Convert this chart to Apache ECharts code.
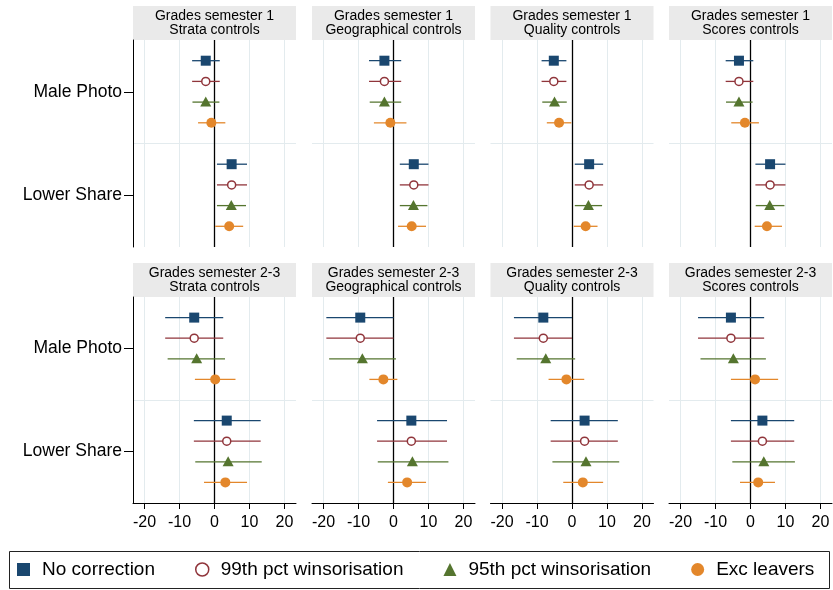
<!DOCTYPE html>
<html><head><meta charset="utf-8">
<script src="https://cdn.jsdelivr.net/npm/echarts@6/dist/echarts.min.js"></script>
<style>html,body{margin:0;padding:0;background:#fff}#c{width:833px;height:590px}</style>
</head><body><div id="c"></div>
<script>
const categories = ["Male Photo", "Lower Share"];
const methods = ["No correction", "99th pct winsorisation", "95th pct winsorisation", "Exc leavers"];
const rowTitles = ["Grades semester 1", "Grades semester 2-3"];
const colTitles = ["Strata controls", "Geographical controls", "Quality controls", "Scores controls"];
const xTicks = [-20, -10, 0, 10, 20];

// each panel: per category, per method: [estimate, lower CI, upper CI]
const sem1Strata = [
  [[-2.5, -6.4, 1.5], [-2.5, -6.4, 1.5], [-2.5, -6.3, 1.4], [-0.9, -4.7, 3.1]],
  [[4.9, 0.7, 9.3], [4.9, 0.7, 9.3], [4.8, 0.7, 9.0], [4.2, 0.2, 8.2]]
];
const sem1Geo = [
  [[-2.6, -7.0, 2.2], [-2.6, -7.0, 2.2], [-2.6, -6.8, 2.2], [-0.9, -5.6, 3.7]],
  [[5.8, 1.8, 10.0], [5.8, 1.8, 10.0], [5.7, 1.8, 9.7], [5.2, 1.3, 9.3]]
];
const sem1Quality = [
  [[-5.2, -8.7, -1.6], [-5.2, -8.7, -1.6], [-5.0, -8.5, -1.5], [-3.7, -7.2, -0.2]],
  [[4.9, 0.8, 8.9], [4.9, 0.8, 8.9], [4.7, 0.8, 8.6], [3.9, 0.5, 7.3]]
];
const sem1Scores = [
  [[-3.3, -7.1, 0.8], [-3.3, -7.1, 0.8], [-3.3, -7.0, 0.6], [-1.6, -5.5, 2.4]],
  [[5.6, 1.4, 10.0], [5.6, 1.4, 10.0], [5.5, 1.5, 9.7], [4.7, 1.2, 9.0]]
];
const sem23Strata = [
  [[-5.8, -14.1, 2.5], [-5.8, -14.1, 2.5], [-5.1, -13.4, 3.0], [0.2, -5.6, 6.0]],
  [[3.5, -5.9, 13.2], [3.5, -5.9, 13.2], [3.9, -5.5, 13.5], [3.1, -3.0, 9.3]]
];
const sem23Geo = [
  [[-9.5, -19.2, 0.0], [-9.5, -19.2, 0.0], [-8.9, -18.4, 0.7], [-2.9, -6.9, 1.1]],
  [[5.1, -4.7, 15.3], [5.1, -4.7, 15.3], [5.4, -4.5, 15.7], [3.9, -1.6, 9.3]]
];
const sem23Quality = [
  [[-8.2, -16.6, 0.0], [-8.2, -16.6, 0.0], [-7.5, -15.8, 0.9], [-1.6, -6.7, 3.5]],
  [[3.6, -6.1, 13.1], [3.6, -6.1, 13.1], [4.0, -5.6, 13.5], [3.1, -2.5, 8.9]]
];
const sem23Scores = [
  [[-5.6, -15.0, 3.9], [-5.6, -15.0, 3.9], [-4.9, -14.3, 4.4], [1.3, -5.6, 7.9]],
  [[3.4, -5.6, 12.5], [3.4, -5.6, 12.5], [3.8, -5.2, 12.7], [2.2, -3.0, 7.0]]
];
const panels = [
  [sem1Strata, sem1Geo, sem1Quality, sem1Scores],
  [sem23Strata, sem23Geo, sem23Quality, sem23Scores]
];

// styling / layout
const FONT = '"Liberation Sans", Arial, Helvetica, sans-serif';
const colors = ['#1a476f', '#90353b', '#55752f', '#e3872b'];
const offsets = [-0.3, -0.1, 0.1, 0.3];
const gridLeft = [133, 312, 490.5, 669];
const gridWidth = 163;
const gridTop = [40, 297];
const gridHeight = [207, 206];
const headerTop = [6, 263];
const headerH = 34;
const GRID_LINE = '#e3ebee';

function marker(m, x, y) {
  const c = colors[m];
  if (m === 0) return { type: 'rect', shape: { x: x - 5, y: y - 5, width: 10, height: 10 }, style: { fill: c } };
  if (m === 1) return { type: 'circle', shape: { cx: x, cy: y, r: 4 }, style: { fill: '#fff', stroke: c, lineWidth: 1.5 } };
  if (m === 2) return { type: 'polygon', shape: { points: [[x, y - 5.5], [x - 5.5, y + 4.5], [x + 5.5, y + 4.5]] }, style: { fill: c } };
  return { type: 'circle', shape: { cx: x, cy: y, r: 5 }, style: { fill: c } };
}
function makeRender(m) {
  return function (params, api) {
    const cat = api.value(1);
    const c = api.coord([api.value(0), cat]);
    const band = api.size([0, 1])[1];
    const y = c[1] + offsets[m] * band;
    const xLo = api.coord([api.value(2), cat])[0];
    const xHi = api.coord([api.value(3), cat])[0];
    return {
      type: 'group',
      children: [
        { type: 'line', shape: { x1: xLo, y1: y, x2: xHi, y2: y }, style: { stroke: colors[m], lineWidth: 1.3 } },
        marker(m, c[0], y)
      ]
    };
  };
}

const grids = [], xAxes = [], yAxes = [], series = [], graphics = [];
let gi = 0;
for (let r = 0; r < 2; r++) {
  for (let col = 0; col < 4; col++) {
    grids.push({ left: gridLeft[col], top: gridTop[r], width: gridWidth, height: gridHeight[r], containLabel: false });
    const bottom = r === 1;
    xAxes.push({
      gridIndex: gi, type: 'value', min: -23.3, max: 23.3,
      axisLine: { show: bottom, onZero: false, lineStyle: { color: '#000', width: 1 } },
      axisTick: { show: bottom, length: 6, customValues: xTicks, lineStyle: { color: '#000' } },
      axisLabel: { show: bottom, customValues: xTicks, fontSize: 16, margin: 12, color: '#000', fontFamily: FONT },
      splitLine: { show: false }
    });
    const first = col === 0;
    yAxes.push({
      gridIndex: gi, type: 'category', data: categories, inverse: true, position: 'left',
      axisLine: { show: first, onZero: false, lineStyle: { color: '#000', width: 1 } },
      axisTick: { show: first, alignWithLabel: true, length: 9, lineStyle: { color: '#000' } },
      axisLabel: { show: first, fontSize: 17.5, margin: 11, color: '#000', fontFamily: FONT },
      splitLine: { show: true, showMinLine: false, showMaxLine: false, lineStyle: { color: GRID_LINE, width: 1 } }
    });
    series.push({
      type: 'line', xAxisIndex: gi, yAxisIndex: gi, data: [], silent: true, z: 1,
      markLine: {
        silent: true, symbol: 'none', z: 1, animation: false, label: { show: false },
        data: xTicks.map(v => ({ xAxis: v, lineStyle: { color: v === 0 ? '#000' : GRID_LINE, width: v === 0 ? 1.3 : 1, type: 'solid' } }))
      }
    });
    const pd = panels[r][col];
    for (let m = 0; m < 4; m++) {
      series.push({
        type: 'custom', name: methods[m], xAxisIndex: gi, yAxisIndex: gi, z: 10, clip: false,
        itemStyle: { color: colors[m] },
        renderItem: makeRender(m),
        dimensions: ['est', 'cat', 'lo', 'hi'],
        encode: { x: [0, 2, 3], y: 1 },
        data: categories.map((cat, ci) => [pd[ci][m][0], cat, pd[ci][m][1], pd[ci][m][2]])
      });
    }
    graphics.push({
      type: 'rect', silent: true, z: 0,
      shape: { x: gridLeft[col], y: headerTop[r], width: gridWidth, height: headerH },
      style: { fill: '#eaeaea' }
    });
    graphics.push({
      type: 'text', silent: true, z: 1,
      x: gridLeft[col] + gridWidth / 2, y: headerTop[r] + headerH / 2,
      style: { text: rowTitles[r] + '\n' + colTitles[col], fill: '#000', font: '14px ' + FONT, align: 'center', verticalAlign: 'middle', lineHeight: 14.5 }
    });
    gi++;
  }
}
graphics.push({
  type: 'rect', silent: true, z: 0,
  shape: { x: 9.5, y: 551.5, width: 820, height: 37 },
  style: { fill: 'none', stroke: '#222', lineWidth: 1 }
});

const legendIcons = ['rect', 'circle', 'triangle', 'circle'];
const option = {
  animation: false,
  backgroundColor: '#fff',
  textStyle: { fontFamily: FONT },
  grid: grids, xAxis: xAxes, yAxis: yAxes, series: series,
  graphic: graphics,
  legend: {
    left: 17, top: 560, itemWidth: 13, itemHeight: 13, itemGap: 40, padding: 0,
    selectedMode: false, symbolKeepAspect: true,
    textStyle: { fontSize: 19, color: '#000', fontFamily: FONT, padding: [0, 0, 0, 7] },
    data: methods.map((n, m) => ({
      name: n, icon: legendIcons[m],
      itemStyle: m === 1 ? { color: '#fff', borderColor: colors[m], borderWidth: 1.5 } : { color: colors[m] }
    }))
  }
};
const chart = echarts.init(document.getElementById('c'), null, { renderer: 'canvas' });
chart.setOption(option);
</script>
</body></html>
